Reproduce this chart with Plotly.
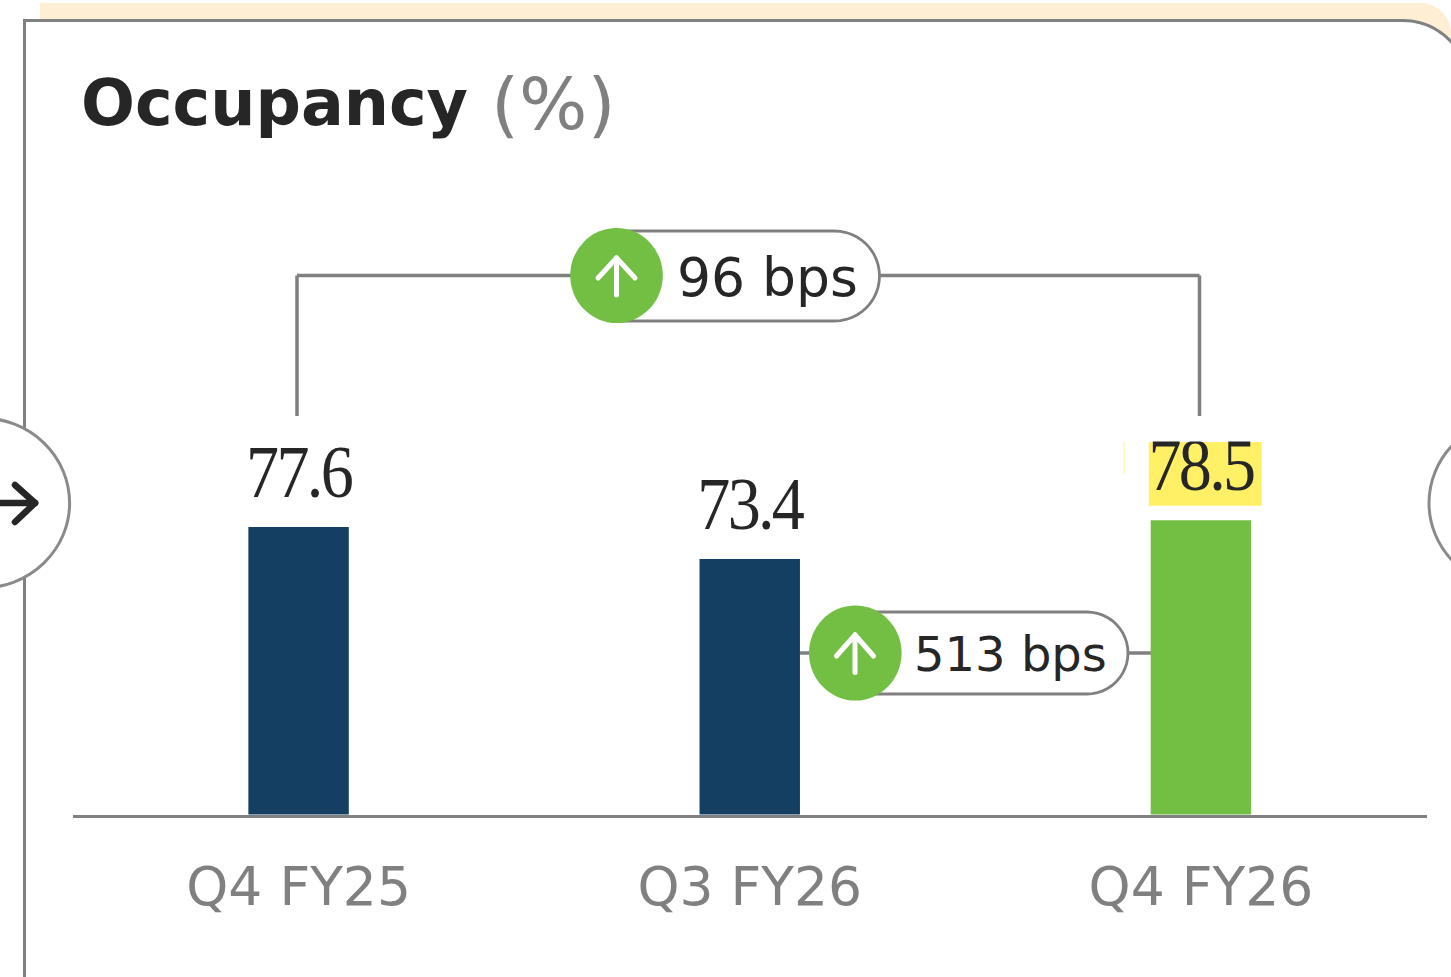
import math
import plotly.graph_objects as go

W, H = 1451, 977

quarters = ["Q4 FY25", "Q3 FY26", "Q4 FY26"]
occupancy = [77.6, 73.4, 78.5]
bar_colors = ["#153e63", "#153e63", "#72bf44"]
change_labels = ["96 bps", "513 bps"]
title_main = "Occupancy"
title_unit = "(%)"

GRAY = "#808080"
DARK = "#262626"
GREEN = "#72bf44"
SANS = "DejaVu Sans"
SERIF = "Liberation Serif"


def px(x):
    return x / W


def py(y):
    return 1 - y / H


def rect(x0, y0, x1, y1, fill, layer="below"):
    return dict(type="rect", xref="paper", yref="paper", x0=px(x0), x1=px(x1), y0=py(y0), y1=py(y1),
                fillcolor=fill, line=dict(width=0), layer=layer)


def line(x0, y0, x1, y1, color=GRAY, width=3.5):
    return dict(type="line", xref="paper", yref="paper", x0=px(x0), x1=px(x1), y0=py(y0), y1=py(y1),
                line=dict(color=color, width=width), layer="below")


def ellipse(cx, cy, rx, ry, fill, border=None, width=0):
    return dict(type="circle", xref="paper", yref="paper", x0=px(cx - rx), x1=px(cx + rx),
                y0=py(cy - ry), y1=py(cy + ry), fillcolor=fill,
                line=dict(color=border or fill, width=width), layer="below")


def pill(x0, x1, y0, y1):
    r = (y1 - y0) / 2
    n = 24
    pts = f"M{px(x0):.5f},{py(y0):.5f} L{px(x1 - r):.5f},{py(y0):.5f} "
    for i in range(1, n + 1):
        a = -math.pi / 2 + math.pi * i / n
        pts += f"L{px(x1 - r + r * math.cos(a)):.5f},{py((y0 + y1) / 2 + r * math.sin(a)):.5f} "
    pts += f"L{px(x0):.5f},{py(y1):.5f} Z"
    return dict(type="path", xref="paper", yref="paper", path=pts, fillcolor="white",
                line=dict(color=GRAY, width=2.8), layer="below")


def corner_path(y_top, x_right_center, r, y_bottom, x0):
    pts = f"M{px(x0):.5f},{py(y_bottom):.5f} L{px(x0):.5f},{py(y_top):.5f} L{px(x_right_center):.5f},{py(y_top):.5f} "
    for i in range(1, 25):
        a = -math.pi / 2 + (math.pi / 2) * i / 24
        pts += f"L{px(x_right_center + r * math.cos(a)):.5f},{py(y_top + r + r * math.sin(a)):.5f} "
    pts += f"L{px(x_right_center + r):.5f},{py(y_bottom):.5f} Z"
    return pts


def up_arrow(cx, tip, bottom, wing_dx, wing_y):
    return [
        line(cx, tip, cx, bottom, "white", 5),
        line(cx - wing_dx, wing_y, cx, tip, "white", 5),
        line(cx + wing_dx, wing_y, cx, tip, "white", 5),
    ]


shapes = []
# pale band and card
shapes.append(dict(type="path", xref="paper", yref="paper", path=corner_path(3, 1420, 31, 60, 40),
                   fillcolor="#fdeed4", line=dict(width=0), layer="below"))
shapes.append(dict(type="path", xref="paper", yref="paper", path=corner_path(20.5, 1403, 65, 1010, 24.5),
                   fillcolor="white", line=dict(color=GRAY, width=3), layer="below"))
# side buttons
shapes.append(ellipse(-18.4, 503, 88, 85, "white", "#8a8a8a", 3))
shapes.append(ellipse(1517, 503, 88, 85, "white", "#8a8a8a", 3))
shapes.append(line(0, 503, 35, 503, DARK, 6.5))
shapes.append(line(15, 485, 35, 503, DARK, 6.5))
shapes.append(line(15, 522, 35, 503, DARK, 6.5))
# top connector
shapes.append(line(297, 416, 297, 275.5))
shapes.append(line(297, 275.5, 1199.5, 275.5))
shapes.append(line(1199.5, 275.5, 1199.5, 416))
shapes.append(pill(617, 879.5, 231, 321))
shapes.append(ellipse(616.5, 275.5, 46.3, 47.5, GREEN))
shapes += up_arrow(616.5, 258, 295, 18.5, 278)
# lower connector
shapes.append(line(800, 653, 815, 653))
shapes.append(line(1120, 653, 1151, 653))
shapes.append(pill(855, 1128, 612, 694))
shapes.append(ellipse(855.3, 653, 46.3, 47.5, GREEN))
shapes += up_arrow(855, 635, 672.5, 18.5, 656)
# highlight behind the last value
shapes.append(rect(1148.7, 442, 1261.7, 505.7, "#fff066"))
shapes.append(rect(1123.5, 442, 1125, 474, "#fff7c0"))
# clipped text edges
shapes.append(rect(70, 138.5, 640, 170, "white", "above"))
shapes.append(rect(1140, 420, 1270, 441.5, "white", "above"))

# Value-label offset in axis units
LABEL_GAP = 1.5

fig = go.Figure()
fig.add_trace(go.Bar(x=quarters, y=occupancy, marker=dict(color=bar_colors, line=dict(width=0)),
                     width=100.5 / 451.5, hoverinfo="skip", showlegend=False))
fig.add_trace(go.Scatter(x=quarters, y=[v + LABEL_GAP for v in occupancy], mode="text",
                         text=[f"{v:.1f}" for v in occupancy], textposition="top center",
                         textfont=dict(family=SERIF, size=74, color=DARK),
                         hoverinfo="skip", showlegend=False, cliponaxis=False))
fig.add_trace(go.Scatter(x=[81], y=[109], xaxis="x2", yaxis="y2", mode="text",
                         text=[title_main], textposition="middle right",
                         textfont=dict(family=SANS, size=63.5, color=DARK, weight="bold"),
                         hoverinfo="skip", showlegend=False, cliponaxis=False))
fig.add_trace(go.Scatter(x=[491], y=[111], xaxis="x2", yaxis="y2", mode="text",
                         text=[title_unit], textposition="middle right",
                         textfont=dict(family=SANS, size=72, color=GRAY),
                         hoverinfo="skip", showlegend=False, cliponaxis=False))
fig.add_trace(go.Scatter(x=[677, 914], y=[283, 659], xaxis="x2", yaxis="y2", mode="text",
                         text=change_labels, textposition="middle right",
                         textfont=dict(family=SANS, size=[53.5, 48], color=DARK),
                         hoverinfo="skip", showlegend=False, cliponaxis=False))

fig.update_layout(
    width=W, height=H, margin=dict(l=0, r=0, t=0, b=0, pad=0),
    paper_bgcolor="white", plot_bgcolor="rgba(0,0,0,0)", showlegend=False,
    shapes=shapes,
    xaxis=dict(domain=[73 / W, 1426.5 / W], type="category", categoryorder="array", categoryarray=quarters,
               range=[-0.5, 2.5], showline=True, linecolor=GRAY, linewidth=2.5, showgrid=False, zeroline=False,
               ticks="", ticklabelstandoff=24, tickfont=dict(family=SANS, size=53.5, color=GRAY), anchor="y"),
    yaxis=dict(domain=[1 - 814.5 / H, 1], range=[39.92, 146.67], visible=False, showgrid=False, zeroline=False,
               anchor="x"),
    xaxis2=dict(domain=[0, 1], range=[0, W], visible=False, anchor="y2"),
    yaxis2=dict(domain=[0, 1], range=[H, 0], visible=False, anchor="x2"),
)

post = """
document.body.style.margin='0';
document.querySelectorAll('.textpoint text').forEach(function(t){
  if((t.style.fontFamily||'').indexOf('Liberation Serif')>=0){
    t.setAttribute('textLength','105');t.setAttribute('lengthAdjust','spacingAndGlyphs');t.style.letterSpacing='-3px';
  }
});
document.querySelectorAll('.shapelayer path').forEach(function(p){
  var s=p.style.stroke||'';
  if(s.indexOf('255, 255, 255')>=0||s.indexOf('38, 38, 38')>=0){p.style.strokeLinecap='round';}
});
"""
fig.write_html("out.html", post_script=post, config=dict(displayModeBar=False))
